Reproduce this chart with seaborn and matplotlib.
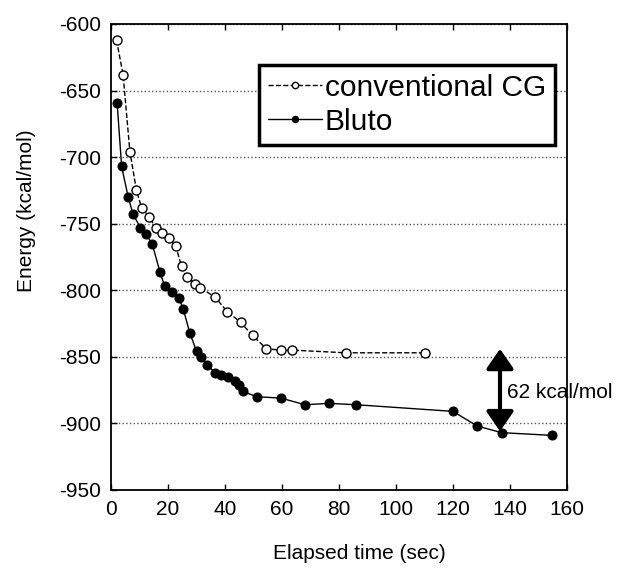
import matplotlib
matplotlib.use("Agg")
import matplotlib.pyplot as plt
import seaborn as sns

# conventional CG run (open circles, dashed)
cg_time = [2.0, 4.3, 6.7, 9.0, 10.8, 13.5, 15.7, 17.8, 20.4, 22.8, 24.8, 26.6,
           29.5, 31.2, 36.5, 40.8, 45.5, 49.7, 54.6, 59.6, 63.7, 82.5, 110.2]
cg_energy = [-612, -638, -696, -725, -738, -745, -753, -757, -761, -767, -782, -790,
             -795, -798, -805, -816, -824, -834, -844, -845, -845, -847, -847]

# Bluto run (filled circles, solid)
bluto_time = [2.2, 3.8, 6.1, 7.8, 10.4, 12.3, 14.5, 17.2, 18.9, 21.3, 23.9, 25.4,
              27.7, 30.1, 31.5, 33.8, 36.5, 38.8, 41.2, 43.5, 45.0, 46.2, 51.3,
              59.6, 68.1, 76.6, 86.0, 120.0, 128.5, 137.1, 154.6]
bluto_energy = [-659, -707, -730, -743, -753, -758, -765, -786, -797, -801, -806, -814,
                -832, -846, -850, -856, -862, -864, -865, -868, -871, -876, -880,
                -881, -886, -885, -886, -891, -902, -907, -909]

x_ticks = [0, 20, 40, 60, 80, 100, 120, 140, 160]
y_ticks = [-950, -900, -850, -800, -750, -700, -650, -600]

sns.set_style("ticks")
plt.rcParams['font.family'] = ['Liberation Sans', 'DejaVu Sans']
plt.rcParams['axes.unicode_minus'] = False
for key in ['text.color', 'axes.labelcolor', 'xtick.color', 'ytick.color']:
    plt.rcParams[key] = 'black'

fig = plt.figure(figsize=(6.19, 5.71), dpi=100)
ax = fig.add_axes([0.179, 0.142, 0.737, 0.816])

sns.lineplot(x=cg_time, y=cg_energy, ax=ax, color="black", linestyle="--", lw=1.0,
             marker="o", markersize=6.5, markerfacecolor="white", markeredgecolor="black",
             markeredgewidth=1.0, sort=False, estimator=None, label="conventional CG")
sns.lineplot(x=bluto_time, y=bluto_energy, ax=ax, color="black", lw=1.0,
             marker="o", markersize=6.5, markerfacecolor="black", markeredgecolor="black",
             sort=False, estimator=None, label="Bluto")

ax.set_xlim(0, 160)
ax.set_ylim(-950, -600)
ax.set_xticks(x_ticks)
ax.set_yticks(y_ticks)
ax.tick_params(axis="both", labelsize=15, direction="in", length=4, width=1, pad=7)
ax.tick_params(axis="x", top=True)
ax.yaxis.grid(True, linestyle=":", color="#555555", lw=1.0)
for s in ax.spines.values():
    s.set_color("black")
    s.set_linewidth(1.3)

ax.set_xlabel("Elapsed time (sec)", fontsize=15)
ax.set_ylabel("Energy (kcal/mol)", fontsize=15)
ax.xaxis.set_label_coords(0.545, -0.115)
ax.yaxis.set_label_coords(-0.165, 0.60)

# 62 kcal/mol gap marker
ax.annotate("", xy=(136.5, -906), xytext=(136.5, -844),
            arrowprops=dict(arrowstyle="<|-|>,head_length=0.8,head_width=0.55",
                            color="black", lw=3.0, mutation_scale=15,
                            shrinkA=0, shrinkB=0))
ax.text(139, -877, "62 kcal/mol", fontsize=15, ha="left", va="center")

leg = ax.legend(loc="upper right", bbox_to_anchor=(0.974, 0.912), borderaxespad=0,
                fontsize=21.5, frameon=True, fancybox=False, edgecolor="black",
                framealpha=1.0, handlelength=1.8, handletextpad=0.1, borderpad=0.3,
                labelspacing=0.2, markerscale=0.7)
leg.get_frame().set_linewidth(2.5)

plt.savefig("out.png", dpi=100)
